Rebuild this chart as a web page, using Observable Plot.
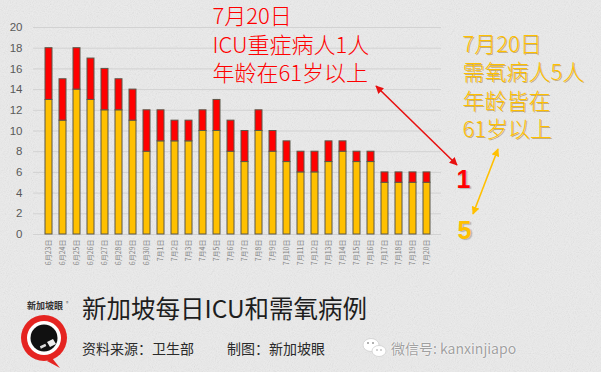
<!DOCTYPE html>
<html>
<head>
<meta charset="utf-8">
<script src="https://cdn.jsdelivr.net/npm/d3@7"></script>
<script src="https://cdn.jsdelivr.net/npm/@observablehq/plot@0.6"></script>
<style>
  html, body { margin: 0; padding: 0; }
  body {
    width: 601px; height: 372px; overflow: hidden;
    background-color: #ececec;
    background-image: url("data:image/svg+xml;utf8,<svg xmlns='http://www.w3.org/2000/svg' width='240' height='240'><filter id='n'><feTurbulence type='fractalNoise' baseFrequency='0.95' numOctaves='2' stitchTiles='stitch'/><feColorMatrix type='saturate' values='0'/></filter><rect width='100%' height='100%' filter='url(%23n)' opacity='0.22'/></svg>");
    font-family: "Noto Sans CJK SC", "Noto Sans", sans-serif;
  }
  #wrap { position: relative; width: 601px; height: 372px; }
  #chart svg { display: block; overflow: visible; }
  .ann-orange text { text-shadow: 1px 1px 0.5px rgba(150,100,0,0.45); }
  .num text { text-shadow: 1.5px 1.5px 1px rgba(0,0,0,0.22); }
  .abs { position: absolute; white-space: nowrap; line-height: 1; }
</style>
</head>
<body>
<div id="wrap">
  <div id="chart"></div>
</div>
<script>
// ---- data ----
const dates = ["6月23日","6月24日","6月25日","6月26日","6月27日","6月28日","6月29日","6月30日",
  "7月1日","7月2日","7月3日","7月4日","7月5日","7月6日","7月7日","7月8日","7月9日","7月10日",
  "7月11日","7月12日","7月13日","7月14日","7月15日","7月16日","7月17日","7月18日","7月19日","7月20日"];
const oxygen = [13,11,14,13,12,12,11,8,9,9,9,10,10,8,7,10,8,7,6,6,7,8,7,7,5,5,5,5];
const icu    = [5,4,4,4,4,3,3,4,3,2,2,2,3,3,3,2,2,2,2,2,2,1,1,1,1,1,1,1];
const seriesNames = ["需氧", "ICU"];
const seriesColors = ["#FFC000", "#FF0000"];
const yTicks = [0,2,4,6,8,10,12,14,16,18,20];

const title = "新加坡每日ICU和需氧病例";
const source = "资料来源：卫生部";
const maker = "制图：新加坡眼";
const wechat = "微信号: kanxinjiapo";
const icuNote = ["7月20日", "ICU重症病人1人", "年龄在61岁以上"];
const oxyNote = ["7月20日", "需氧病人5人", "年龄皆在", "61岁以上"];
const icuLast = String(icu[icu.length - 1]);
const oxyLast = String(oxygen[oxygen.length - 1]);

const rows = dates.flatMap((d, i) => [
  {date: d, type: seriesNames[0], value: oxygen[i]},
  {date: d, type: seriesNames[1], value: icu[i]}
]);

const cjk = "Noto Sans CJK SC";
const lineGap = 28.6;

// stack annotation lines below each other, starting at a given frame offset
function stackLines(offsetX, firstBaseline) {
  return function(index, scales, values, dims, context, next) {
    const g = next(index, scales, values, dims, context);
    d3.select(g).selectAll("text").attr("x", 0).attr("y", 0).attr("dy", "0")
      .attr("transform", (_, i) => `translate(${dims.marginLeft + offsetX},${firstBaseline + i * lineGap})`);
    return g;
  };
}

const plot = Plot.plot({
  width: 601,
  height: 280,
  marginTop: 27,
  marginBottom: 46,
  marginLeft: 33,
  marginRight: 160,
  style: {background: "transparent", fontFamily: cjk, overflow: "visible"},
  x: {domain: dates, padding: 0.52, label: null},
  y: {domain: [0, 20], label: null},
  color: {domain: seriesNames, range: seriesColors},
  marks: [
    Plot.gridY(yTicks, {stroke: "#d2d2d2", strokeOpacity: 1, strokeWidth: 1}),
    Plot.axisY(yTicks, {tickSize: 0, tickPadding: 11, fontSize: 11.5, color: "#595959",
      fontFamily: "Liberation Sans", label: null}),
    Plot.axisX({tickSize: 0, tickRotate: -90, tickPadding: 5, fontSize: 7, color: "#808080",
      fontFamily: cjk, label: null}),
    Plot.barY(rows, {x: "date", y: "value", fill: "type", stroke: "#5b5648", strokeWidth: 1}),
    Plot.text(icuNote, {frameAnchor: "top-left", text: d => d, textAnchor: "start",
      fontSize: 22, fontWeight: 300, fill: "#FF0000", render: stackLines(179, 23.5)}),
    Plot.text(oxyNote, {frameAnchor: "top-left", text: d => d, textAnchor: "start",
      fontSize: 22, fontWeight: 300, fill: "#FFC000", className: "ann-orange", render: stackLines(429, 51)}),
    Plot.text([icuLast], {frameAnchor: "top-left", dx: 423, dy: 152, lineAnchor: "middle",
      textAnchor: "start", fontSize: 25, fontWeight: "bold", fill: "#FF0000", fontFamily: "Liberation Sans", className: "num"}),
    Plot.text([oxyLast], {frameAnchor: "top-left", dx: 424, dy: 203, lineAnchor: "middle",
      textAnchor: "start", fontSize: 25, fontWeight: "bold", fill: "#FFC000", fontFamily: "Liberation Sans", className: "num"})
  ]
});

// arrows (annotation connectors)
const svg = d3.select(plot);
const defs = svg.append("defs");
function marker(id, color) {
  defs.append("marker").attr("id", id).attr("viewBox", "0 0 10 10").attr("refX", 9).attr("refY", 5)
    .attr("markerWidth", 5).attr("markerHeight", 5).attr("orient", "auto-start-reverse")
    .append("path").attr("d", "M0,0L10,5L0,10z").attr("fill", color);
}
marker("ar", "#E81010");
marker("ao", "#FFC000");
const arrows = [
  {x1: 376, y1: 86, x2: 457, y2: 165, c: "#E81010", m: "ar"},
  {x1: 498, y1: 149, x2: 473, y2: 214, c: "#FFC000", m: "ao"}
];
svg.append("g").selectAll("line").data(arrows).join("line")
  .attr("x1", d => d.x1).attr("y1", d => d.y1).attr("x2", d => d.x2).attr("y2", d => d.y2)
  .attr("stroke", d => d.c).attr("stroke-width", 1.6)
  .attr("marker-start", d => `url(#${d.m})`).attr("marker-end", d => `url(#${d.m})`);

document.getElementById("chart").appendChild(plot);

// footer
const wrap = document.getElementById("wrap");
function addText(txt, left, top, size, color, extra) {
  const d = document.createElement("div");
  d.className = "abs";
  d.textContent = txt;
  d.style.left = left + "px"; d.style.top = top + "px";
  d.style.fontSize = size + "px"; d.style.color = color;
  if (extra) Object.assign(d.style, extra);
  wrap.appendChild(d);
}
addText(title, 82, 296, 24.5, "#1e1e1e", {fontWeight: 400});
addText(source, 82, 341, 14, "#2a2a2a");
addText(maker, 227, 341, 14, "#2a2a2a");
addText(wechat, 391, 341, 14, "#a0a0a0", {textShadow: "0 0 2px #fff, 0 0 1px #fff"});

// logo and wechat icon (decoration)
const deco = document.createElementNS("http://www.w3.org/2000/svg", "svg");
deco.setAttribute("width", 601); deco.setAttribute("height", 372);
deco.style.position = "absolute"; deco.style.left = "0"; deco.style.top = "0";
deco.innerHTML = `
  <text x="45" y="309" text-anchor="middle" font-size="9" font-weight="bold" fill="#333" font-family="${cjk}">新加坡眼</text>
  <text x="66" y="305" font-size="5" fill="#555">®</text>
  <path d="M52,358 L60,368 L47,361 Z" fill="#e52421"/>
  <circle cx="44" cy="338" r="23" fill="#e52421"/>
  <circle cx="44" cy="338" r="17" fill="#ffffff"/>
  <circle cx="44" cy="338" r="13.5" fill="#111"/>
  <path d="M47,342 l6,-3 l3,5 l-6,3 z" fill="#eee"/>
  <rect x="40" y="345" width="6" height="2.5" fill="#ddd" transform="rotate(-25 43 346)"/>
  <g fill="#ffffff" stroke="#cfcfcf" stroke-width="0.8">
    <ellipse cx="371" cy="345" rx="8" ry="6.5"/>
    <ellipse cx="379" cy="351" rx="7" ry="5.5"/>
  </g>
  <g fill="#999"><circle cx="368" cy="343" r="1"/><circle cx="373" cy="343" r="1"/>
  <circle cx="377" cy="350" r="0.8"/><circle cx="381" cy="350" r="0.8"/></g>
`;
wrap.appendChild(deco);
</script>
</body>
</html>
